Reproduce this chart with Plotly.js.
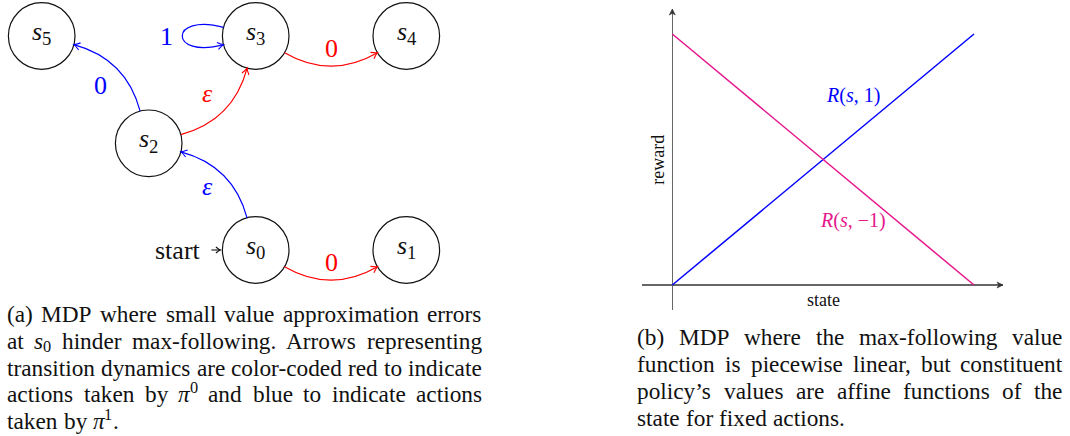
<!DOCTYPE html>
<html><head><meta charset="utf-8">
<script src="https://cdn.plot.ly/plotly-3.0.1.min.js"></script>
<style>html,body{margin:0;padding:0;background:#fff}</style>
</head><body><div id="chart" style="width:1070px;height:436px"></div>
<script>
// ---------------- data ----------------
const nodeNames = ['s0', 's1', 's2', 's3', 's4', 's5'];
const nodeSubscripts = ['0', '1', '2', '3', '4', '5'];
const edgeFrom   = ['s0', 's0', 's2', 's2', 's3', 's3'];
const edgeTo     = ['s2', 's1', 's5', 's3', 's4', 's3'];
const edgeLabels = ['ε', '0', '0', 'ε', '0', '1'];
const edgePolicy = [1, 0, 1, 0, 0, 1];          // 0 = action of π^0 (red), 1 = action of π^1 (blue)
const startNode = 's0';
const startLabel = 'start';

const stateValues = [0, 1];
const rewardAction1 = [0, 1];
const rewardActionMinus1 = [1, 0];
const seriesLabels = ['<i>R</i>(<i>s</i>, 1)', '<i>R</i>(<i>s</i>, −1)'];
const xAxisLabel = 'state';
const yAxisLabel = 'reward';

const captionA = [
  '(a) MDP where small value approximation errors',
  'at {s_0} hinder max-following. Arrows representing',
  'transition dynamics are color-coded red to indicate',
  'actions taken by {π^0} and blue to indicate actions',
  'taken by {π^1}.'
];
const captionB = [
  '(b) MDP where the max-following value',
  'function is piecewise linear, but constituent',
  'policy’s values are affine functions of the',
  'state for fixed actions.'
];

// ---------------- layout / style ----------------
const SERIF = 'Liberation Serif, Times New Roman, serif';
const ASC = 0.891, DESC = 0.216;
const TXT = '#111';
const BLUE = '#0000ff', RED = '#ff0000', PINK = '#e6168c', AXIS = '#666';
const policyColor = [RED, BLUE];
const NODE_POS = {s0:[255.7,250], s1:[406.3,250], s2:[148.7,143.3], s3:[255.7,36], s4:[406.3,36], s5:[41.7,36]};
const NODE_R = 33.3;
const BEND = 30;
const LOOP = {out:165, inn:195, len:57};
const CAP_F = 23.3;
// chart frame (pixels)
const FR = {ox:672.3, oy:285, ux:301.7, uy:251, left:641.7, right:1003, top:9, bottom:310};
const X = v => FR.ox + v*FR.ux;
const Y = v => FR.oy - v*FR.uy;

const ctx = document.createElement('canvas').getContext('2d');
function tw(t, size, it){ ctx.font = (it?'italic ':'') + size + 'px "Liberation Serif"'; return ctx.measureText(t).width; }

const annotations = [];
const shapes = [];
function put(t, x, baseline, size, color, it, anchor, extra){
  const a = {xref:'x', yref:'y', x:x, y: baseline - (ASC - (ASC+DESC)/2)*size,
    text: it ? '<i>'+t+'</i>' : t, showarrow:false, xanchor: anchor||'left', yanchor:'middle',
    font:{family:SERIF, size:size, color:color}, borderpad:0, borderwidth:0};
  annotations.push(Object.assign(a, extra||{}));
}

// ---- rich text helpers ----
function parseWord(w){
  const segs=[]; const re=/\{(.)([_^])(.)\}|([^{]+)/g; let m;
  while((m=re.exec(w))){
    if(m[4]) segs.push({t:m[4],k:'n'});
    else { segs.push({t:m[1],k:'i'}); segs.push({t:m[3],k:m[2]==='_'?'b':'p'}); }
  }
  return segs;
}
const segSize = (k,F) => (k==='b'||k==='p') ? 0.7*F : F;
const segW = (s,F) => tw(s.t, segSize(s.k,F), s.k==='i');
const segShift = (k,F) => k==='b' ? 0.15*F : (k==='p' ? -0.38*F : 0);

function caption(lines, left, right, base0, lead, F){
  lines.forEach((line, li) => {
    const words = line.split(' ').map(parseWord);
    const ws = words.map(w => w.reduce((a,s)=>a+segW(s,F),0));
    const total = ws.reduce((a,b)=>a+b,0);
    const last = li === lines.length-1;
    const gap = last ? tw(' ',F,false) : (right-left-total)/(words.length-1);
    let x = left; const base = base0 + li*lead;
    words.forEach((w,wi) => {
      let sx = x;
      w.forEach(s => { put(s.t, sx, base+segShift(s.k,F), segSize(s.k,F), TXT, s.k==='i'); sx += segW(s,F); });
      x += ws[wi] + gap;
    });
  });
}

// ---- geometry for the MDP diagram ----
const rad = a => a*Math.PI/180;
const dir = a => [Math.cos(rad(a)), -Math.sin(rad(a))];
const angOf = (a,b) => Math.atan2(-(b[1]-a[1]), b[0]-a[0])*180/Math.PI;
const border = (n,a) => { const c=NODE_POS[n], d=dir(a); return [c[0]+NODE_R*d[0], c[1]+NODE_R*d[1]]; };
const add = (p,q,k) => [p[0]+k*q[0], p[1]+k*q[1]];
function cubicPt(p0,p1,p2,p3,t){
  const u=1-t; const f=(i)=>u*u*u*p0[i]+3*u*u*t*p1[i]+3*u*t*t*p2[i]+t*t*t*p3[i];
  return [f(0),f(1)];
}
function arrowHead(tip, from, color, len, half, filled){
  let u=[tip[0]-from[0], tip[1]-from[1]]; const l=Math.hypot(u[0],u[1]); u=[u[0]/l,u[1]/l];
  const pp=[-u[1],u[0]];
  const back=add(tip,u,-len);
  const b1=add(back,pp,half), b2=add(back,pp,-half);
  if(filled){
    const notch=add(tip,u,-len*0.7);
    shapes.push({type:'path', xref:'x', yref:'y', path:`M${b1[0]},${b1[1]} L${tip[0]},${tip[1]} L${b2[0]},${b2[1]} L${notch[0]},${notch[1]} Z`,
      fillcolor:color, line:{color:color, width:0.6}});
  } else {
    const c1=add(add(tip,u,-len*0.35),pp,half*0.2), c2=add(add(tip,u,-len*0.35),pp,-half*0.2);
    shapes.push({type:'path', xref:'x', yref:'y', path:`M${b1[0]},${b1[1]} Q${c1[0]},${c1[1]} ${tip[0]},${tip[1]} Q${c2[0]},${c2[1]} ${b2[0]},${b2[1]}`,
      line:{color:color, width:1.1}});
  }
}

// nodes
nodeNames.forEach((n,i) => {
  const c = NODE_POS[n];
  shapes.push({type:'circle', xref:'x', yref:'y', x0:c[0]-NODE_R, x1:c[0]+NODE_R, y0:c[1]-NODE_R, y1:c[1]+NODE_R,
    line:{color:'#111', width:1.2}});
  const F=26, sF=0.72*F;
  const w1=tw('s',F,true), w2=tw(nodeSubscripts[i],sF,false);
  const left=c[0]-(w1+w2)/2, base=c[1]+0.15*F;
  put('s', left, base, F, TXT, true);
  put(nodeSubscripts[i], left+w1, base+0.2*F, sF, TXT, false);
});

// edges
edgeFrom.forEach((f,i) => {
  const t = edgeTo[i], col = policyColor[edgePolicy[i]];
  let out, inn, L, s, e;
  if(f === t){ out=LOOP.out; inn=LOOP.inn; s=border(f,out); e=border(t,inn); L=LOOP.len; }
  else {
    out = angOf(NODE_POS[f],NODE_POS[t]) - BEND; inn = angOf(NODE_POS[t],NODE_POS[f]) + BEND;
    s = border(f,out); e = border(t,inn); L = 0.3915*Math.hypot(e[0]-s[0], e[1]-s[1]);
  }
  const c1 = add(s,dir(out),L), c2 = add(e,dir(inn),L);
  shapes.push({type:'path', xref:'x', yref:'y', path:`M${s[0]},${s[1]} C${c1[0]},${c1[1]} ${c2[0]},${c2[1]} ${e[0]},${e[1]}`,
    line:{color:col, width:1.2}});
  arrowHead(e, cubicPt(s,c1,c2,e,0.95), col, 6, 3.6, false);
  // label
  const mid = cubicPt(s,c1,c2,e,0.5);
  const eps = edgeLabels[i]==='ε';
  const F = 26, hw = 16.5, hh = eps ? 14.5 : 17.5;
  let cx, cy;
  if(f === t){ const d=dir((out+inn)/2); cx = mid[0]+d[0]*15.5; cy = mid[1]+d[1]*15.5; }
  else {
    const v=[e[0]-s[0], e[1]-s[1]]; const l=Math.hypot(v[0],v[1]); const n=[v[1]/l, -v[0]/l];
    const sg = q => Math.abs(q)>0.3 ? Math.sign(q) : 0;
    cx = mid[0]+sg(n[0])*hw; cy = mid[1]+sg(n[1])*hh;
  }
  const base = cy + (eps ? 0.23 : 0.338)*F;
  put(edgeLabels[i], cx, base, F, col, eps, 'center');
});

// start arrow
{
  const c = NODE_POS[startNode];
  const tip = [c[0]-NODE_R-2, c[1]], tail = [tip[0]-9, c[1]];
  shapes.push({type:'path', xref:'x', yref:'y', path:`M${tail[0]},${tail[1]} L${tip[0]},${tip[1]}`, line:{color:'#111', width:1.1}});
  arrowHead(tip, tail, '#111', 4.5, 3, false);
  put(startLabel, tail[0]-10.5, c[1]+0.34*26, 26, TXT, false, 'right');
}

// ---- chart axes arrows + labels ----
arrowHead([FR.right, FR.oy], [FR.right-10, FR.oy], '#333', 6, 3, true);
arrowHead([FR.ox, FR.top], [FR.ox, FR.top+10], '#333', 6, 3, true);
put(seriesLabels[0], X(0.6), Y(0.6)-32.1, 20, BLUE, false, 'center');
put(seriesLabels[1], X(0.6), Y(0.4)+42.7, 20, PINK, false, 'center');
put(xAxisLabel, X(0.5), FR.oy+21, 18, TXT, false, 'center');
annotations.push({xref:'x', yref:'y', x: X(0)-9-(ASC-(ASC+DESC)/2)*18, y: Y(0.5), text: yAxisLabel, textangle:-90,
  showarrow:false, xanchor:'center', yanchor:'middle', font:{family:SERIF,size:18,color:TXT}, borderpad:0, borderwidth:0});

// ---- captions ----
caption(captionA, 7.3, 481.7, 321.7, 26.85, CAP_F);
caption(captionB, 637.3, 1062.7, 345, 27, CAP_F);

// ---------------- traces ----------------
const traces = [
  {x: stateValues, y: rewardAction1, xaxis:'x2', yaxis:'y2', mode:'lines', line:{color:BLUE, width:1.5}, name:'R(s, 1)', hoverinfo:'skip'},
  {x: stateValues, y: rewardActionMinus1, xaxis:'x2', yaxis:'y2', mode:'lines', line:{color:PINK, width:1.5}, name:'R(s, −1)', hoverinfo:'skip'}
];

const W=1070, H=436;
const layout = {
  width:W, height:H, margin:{l:0,r:0,t:0,b:0}, paper_bgcolor:'#fff', plot_bgcolor:'rgba(0,0,0,0)',
  showlegend:false, hovermode:false,
  xaxis:{range:[0,W], domain:[0,1], visible:false, fixedrange:true},
  yaxis:{range:[H,0], domain:[0,1], visible:false, fixedrange:true},
  xaxis2:{domain:[FR.left/W, FR.right/W], range:[(FR.left-FR.ox)/FR.ux, (FR.right-FR.ox)/FR.ux], anchor:'y2',
    showgrid:false, showticklabels:false, ticks:'', showline:false, zeroline:true, zerolinecolor:AXIS, zerolinewidth:1.3, fixedrange:true},
  yaxis2:{domain:[(H-FR.bottom)/H, (H-FR.top)/H], range:[(FR.oy-FR.bottom)/FR.uy, (FR.oy-FR.top)/FR.uy], anchor:'x2',
    showgrid:false, showticklabels:false, ticks:'', showline:false, zeroline:true, zerolinecolor:AXIS, zerolinewidth:1.3, fixedrange:true},
  shapes: shapes,
  annotations: annotations
};
Plotly.newPlot('chart', traces, layout, {displayModeBar:false, staticPlot:true});
</script>
</body></html>
